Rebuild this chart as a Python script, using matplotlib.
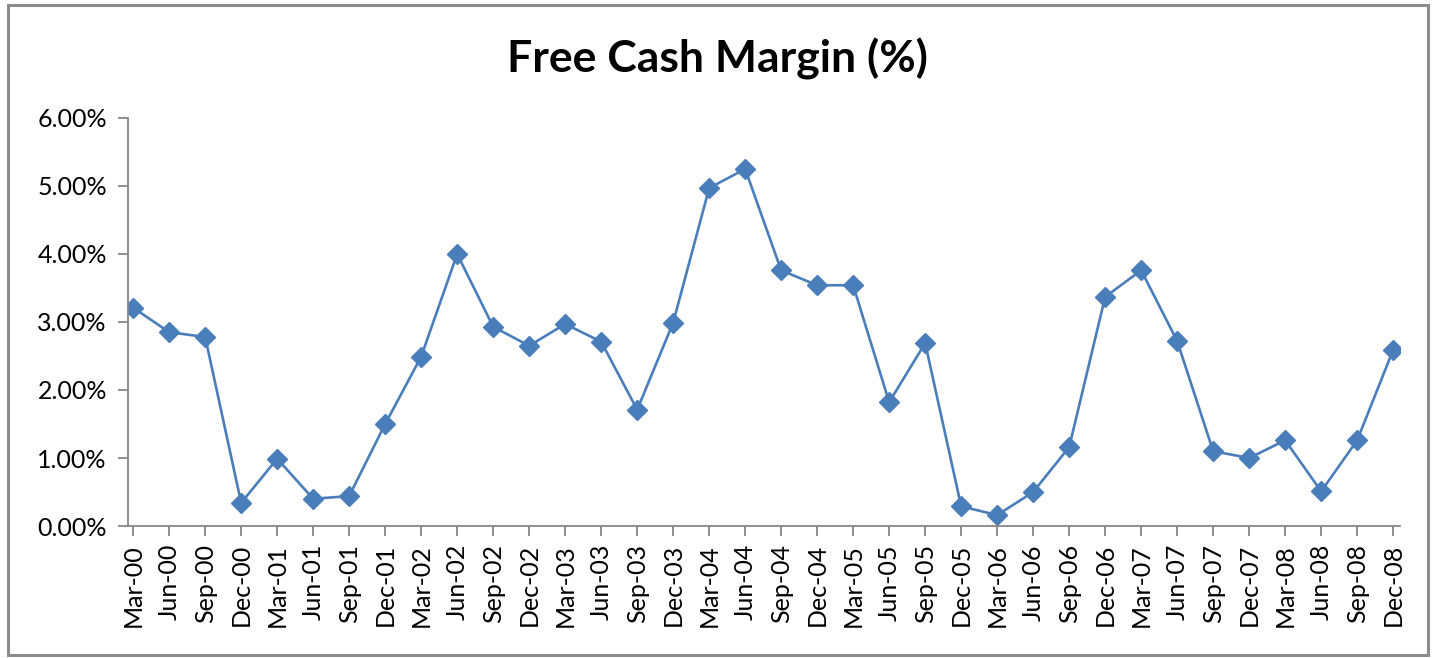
import matplotlib
matplotlib.use('Agg')
import matplotlib.pyplot as plt
from matplotlib.patches import Rectangle
from matplotlib.ticker import FuncFormatter

plt.rcParams['font.family'] = ['Lato', 'DejaVu Sans']

# quarter labels and free cash margin values (%)
quarters = ['Mar-00', 'Jun-00', 'Sep-00', 'Dec-00', 'Mar-01', 'Jun-01', 'Sep-01', 'Dec-01',
            'Mar-02', 'Jun-02', 'Sep-02', 'Dec-02', 'Mar-03', 'Jun-03', 'Sep-03', 'Dec-03',
            'Mar-04', 'Jun-04', 'Sep-04', 'Dec-04', 'Mar-05', 'Jun-05', 'Sep-05', 'Dec-05',
            'Mar-06', 'Jun-06', 'Sep-06', 'Dec-06', 'Mar-07', 'Jun-07', 'Sep-07', 'Dec-07',
            'Mar-08', 'Jun-08', 'Sep-08', 'Dec-08']
margin = [3.21, 2.85, 2.78, 0.34, 0.99, 0.40, 0.44, 1.50,
          2.49, 4.00, 2.93, 2.65, 2.97, 2.71, 1.71, 2.99,
          4.97, 5.25, 3.76, 3.54, 3.54, 1.82, 2.69, 0.29,
          0.16, 0.50, 1.16, 3.37, 3.76, 2.72, 1.10, 1.00,
          1.26, 0.51, 1.26, 2.59]
yticks = [0, 1, 2, 3, 4, 5, 6]

fig = plt.figure(figsize=(14.34, 6.58), dpi=100)
# outer chart border
fig.patches.append(Rectangle((0.0055, 0.004), 0.9905, 0.988, transform=fig.transFigure,
                             fill=False, edgecolor='#8c8c8c', linewidth=2.2))

ax = fig.add_axes([0.0891, 0.2006, 0.8872, 0.6201])
x = list(range(len(quarters)))
ax.plot(x, margin, color='#4a7ebb', linewidth=1.9, marker='D', markersize=10.5,
        markerfacecolor='#4a7ebb', markeredgecolor='#4a7ebb')

ax.set_ylim(0, 6)
ax.set_xlim(-0.15, len(quarters) - 1 + 0.19)
ax.set_yticks(yticks)
ax.yaxis.set_major_formatter(FuncFormatter(lambda v, p: '%.2f%%' % v))
ax.set_xticks(x)
ax.set_xticklabels(quarters, rotation=90)

for s in ['top', 'right']:
    ax.spines[s].set_visible(False)
for s in ['left', 'bottom']:
    ax.spines[s].set_color('#868686')
    ax.spines[s].set_linewidth(1.3)
ax.tick_params(axis='both', colors='#868686', labelcolor='black', labelsize=18,
               length=7, width=1.3)
ax.tick_params(axis='y', pad=8)
ax.tick_params(axis='x', pad=6)

fig.text(0.5, 0.91, 'Free Cash Margin (%)', ha='center', va='center',
         fontsize=32, fontweight='bold')

fig.savefig('out.png', dpi=100)
